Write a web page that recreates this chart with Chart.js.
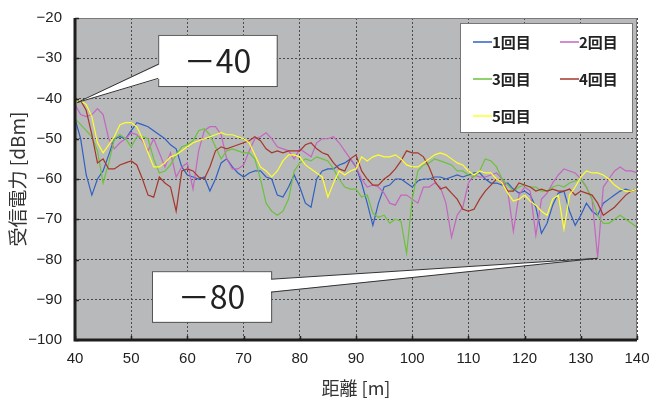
<!DOCTYPE html>
<html lang="ja">
<head>
<meta charset="UTF-8" />
<title>受信電力</title>
<script src="https://cdn.jsdelivr.net/npm/chart.js"></script>
<style>
  html, body { margin: 0; padding: 0; background: #fff; }
</style>
</head>
<body>
<canvas id="rssiChart" width="652" height="401"></canvas>
<script>
// distance [m]
const distance = [
  40, 41, 42, 43, 44, 45, 46, 47, 48, 49, 50, 51, 52, 53, 54, 55, 56, 57, 58, 59,
  60, 61, 62, 63, 64, 65, 66, 67, 68, 69, 70, 71, 72, 73, 74, 75, 76, 77, 78, 79,
  80, 81, 82, 83, 84, 85, 86, 87, 88, 89, 90, 91, 92, 93, 94, 95, 96, 97, 98, 99,
  100, 101, 102, 103, 104, 105, 106, 107, 108, 109, 110, 111, 112, 113, 114, 115, 116, 117, 118, 119,
  120, 121, 122, 123, 124, 125, 126, 127, 128, 129, 130, 131, 132, 133, 134, 135, 136, 137, 138, 139, 140
];

// received power [dBm], one list per run
const run1 = [
  -45, -50, -59, -64, -60, -58, -54, -50, -49.5, -50, -48, -46, -46.5, -47, -48, -49, -50, -51.5, -52.5, -57,
  -59, -59.5, -60, -59.5, -63, -60, -56, -55, -57, -58.5, -59.5, -58.5, -58, -58, -59.5, -60, -64, -64.5, -62, -59,
  -62, -66, -67, -60, -58, -57.5, -57.5, -56.5, -56, -55, -57, -61, -66, -71.5, -66, -62, -61.5, -60, -60, -61,
  -62, -60.5, -60, -60, -59.5, -59.5, -60, -59.5, -59, -59.5, -59, -58.5, -58.5, -60, -61, -61, -61.5, -61, -62.5, -63.5,
  -63, -64, -67, -73.5, -71, -66.5, -63.5, -63, -68, -71.5, -69, -66, -68, -69, -66, -65, -64, -63, -62.5, -63, -62.5
];
const run2 = [
  -41.5, -44, -44.5, -44, -42.5, -44, -50, -52.5, -51, -50, -48.5, -49, -50.5, -53, -50, -53.5, -57, -53.5, -59.5, -57,
  -56, -62.5, -53, -48, -47, -47, -49, -55, -57.5, -57.5, -56.5, -53, -50, -49.5, -48.5, -50, -52, -52.5, -53, -55,
  -52.5, -53.5, -54.5, -51, -50, -50, -49.5, -51, -53, -55, -57, -60, -62, -61.5, -62, -63.5, -66, -66.5, -64, -64,
  -65, -66, -62, -62, -61, -62, -66, -74.5, -69, -67, -61, -59, -59.5, -59.5, -59, -58.5, -60, -63, -73, -64,
  -62, -63, -74, -65, -63.5, -61, -59, -57.5, -58, -58.5, -60, -62, -65, -79.5, -62, -60, -58, -57, -58, -58, -58.5
];
const run3 = [
  -45, -46.5, -48, -49.5, -53, -61, -56, -50, -49, -50, -52, -49.5, -49.5, -50, -55, -58.5, -58, -56.5, -54, -52,
  -51.5, -50.5, -48, -47.5, -49, -52, -55, -53, -52.5, -53, -53.5, -53.5, -55, -60, -66, -68, -69, -68, -65, -58,
  -56, -55, -55.5, -54.5, -55, -55.5, -57.5, -60, -62, -62.5, -62.5, -64.5, -64, -68.5, -69.5, -69, -71, -70, -70.5, -78.5,
  -65, -58, -56.5, -56, -55, -55.5, -56, -56.5, -58, -58, -59, -59.5, -58, -55, -55.5, -57, -60, -61.5, -63, -62,
  -61.5, -62, -62, -63, -63, -62, -61.5, -62, -61, -60.5, -60, -62, -65, -69, -71, -71, -70, -69, -70, -71, -72
];
const run4 = [
  -41, -40.5, -43, -49, -56, -55, -57.5, -57.5, -56.5, -56, -55.5, -56.5, -60, -64, -64.5, -59.5, -61, -62, -68, -58,
  -57.5, -58, -59.5, -60, -57, -53, -52, -52.5, -52, -51.5, -51, -50.5, -49.5, -50.5, -52.5, -53.5, -53, -53.5, -53, -53,
  -53, -51.5, -51, -52.5, -53.5, -54, -56, -57.5, -58, -55, -54, -58, -60, -61.5, -61.5, -60, -59, -57.5, -55.5, -53,
  -53.5, -53.5, -54.5, -57, -60.5, -62.5, -62, -63.5, -65, -67.5, -68, -67.5, -65, -63, -61.5, -60, -61, -63, -63, -61,
  -61.5, -62, -63, -62.5, -63, -62.5, -63, -63, -62.5, -64, -63, -63.5, -64, -66, -69, -68, -67, -65.5, -64, -63, -62.5
];
const run5 = [
  -41, -40.5, -41.5, -44.5, -51, -53.5, -51.5, -49.5, -46.5, -46, -46, -47, -50, -53.5, -57, -57, -56, -54.5, -54, -53,
  -52, -51, -50.5, -50, -49.5, -49, -48.5, -49, -49, -49.5, -50, -51, -54, -57, -58, -59.5, -58, -55.5, -54, -54,
  -54.5, -56.5, -57.5, -58.5, -59.5, -64.5, -61, -58, -59, -58, -57.5, -54.5, -55.5, -54.5, -54, -54.5, -54.5, -54, -55, -56.5,
  -57, -57, -56, -55, -54, -53.5, -54, -55, -56, -56.5, -58, -59, -58, -58.5, -58.5, -60, -61, -63.5, -65.5, -65,
  -64, -65.5, -66.5, -68, -69, -65, -64, -72.5, -64, -62, -59.5, -58, -58.5, -58.5, -59, -60, -61.5, -62.5, -63, -63, -62.5
];

const runLabels = ['1回目', '2回目', '3回目', '4回目', '5回目'];
const runColors = ['#2f5fc4', '#c466c0', '#6cc23c', '#a5372b', '#ffff2a'];
const runs = [run1, run2, run3, run4, run5];

// callouts: [label, tip x, tip y]
const callouts = [
  ['－40', 40.4, -41],
  ['－80', 133, -79.7]
];

const tickFont = { family: '"Liberation Sans", Arial, sans-serif', size: 15 };
const jpFont = '"Noto Sans CJK JP", sans-serif';
const minus = v => String(v).replace('-', '\u2212');

const plotDecor = {
  id: 'plotDecor',
  beforeDraw(chart) {
    const { ctx, chartArea: a } = chart;
    ctx.save();
    ctx.fillStyle = '#b8b9bb';
    ctx.fillRect(a.left, a.top, a.right - a.left, a.bottom - a.top);
    ctx.restore();
  },
  afterDraw(chart) {
    const { ctx, chartArea: a, scales: { x, y } } = chart;
    ctx.save();

    // frame
    ctx.strokeStyle = '#7a7a7a';
    ctx.lineWidth = 1;
    ctx.strokeRect(a.left + 0.5, a.top + 0.5, a.right - a.left - 1, a.bottom - a.top - 1);

    // inner tick marks
    ctx.strokeStyle = '#222';
    ctx.lineWidth = 1.5;
    ctx.beginPath();
    y.ticks.forEach(t => {
      const py = Math.round(y.getPixelForValue(t.value)) + 0.5;
      ctx.moveTo(a.left, py); ctx.lineTo(a.left + 4, py);
    });
    x.ticks.forEach(t => {
      const px = Math.round(x.getPixelForValue(t.value)) + 0.5;
      ctx.moveTo(px, a.bottom); ctx.lineTo(px, a.bottom - 4);
    });
    ctx.stroke();

    // heavy left and bottom axes
    ctx.strokeStyle = '#1e1e1e';
    ctx.lineWidth = 3;
    ctx.beginPath();
    ctx.moveTo(a.left, a.top);
    ctx.lineTo(a.left, a.bottom);
    ctx.lineTo(a.right, a.bottom);
    ctx.stroke();

    // legend box
    const lx = a.right - 177, ly = a.top + 5, lw = 172, lh = 109;
    ctx.fillStyle = '#fff';
    ctx.fillRect(lx, ly, lw, lh);
    ctx.strokeStyle = '#777';
    ctx.lineWidth = 1;
    ctx.strokeRect(lx + 0.5, ly + 0.5, lw, lh);
    ctx.font = 'bold 15px ' + jpFont;
    ctx.textBaseline = 'middle';
    ctx.textAlign = 'left';
    runLabels.forEach((lab, i) => {
      const col = i % 2, row = Math.floor(i / 2);
      const sx = lx + 13 + col * 87;
      const sy = ly + 19 + row * 37;
      ctx.strokeStyle = runColors[i];
      ctx.lineWidth = 1.5;
      ctx.beginPath();
      ctx.moveTo(sx, sy); ctx.lineTo(sx + 19, sy);
      ctx.stroke();
      ctx.fillStyle = '#222';
      ctx.fillText(lab, sx + 19, sy);
    });

    // callout boxes
    const boxes = [
      { x0: 54.8, x1: 75.9, y0: -24.2, y1: -36.9, side: 'left', b0: -31.5, b1: -35 },
      { x0: 53.7, x1: 74.9, y0: -82.9, y1: -95.5, side: 'right', b0: -84.9, b1: -88.1 }
    ];
    callouts.forEach(([label, tx, ty], i) => {
      const b = boxes[i];
      const left = x.getPixelForValue(b.x0), right = x.getPixelForValue(b.x1);
      const top = y.getPixelForValue(b.y0), bottom = y.getPixelForValue(b.y1);
      const px = x.getPixelForValue(tx), py = y.getPixelForValue(ty);
      const ex = b.side === 'left' ? left : right;
      const e0 = y.getPixelForValue(b.b0), e1 = y.getPixelForValue(b.b1);

      ctx.fillStyle = '#fff';
      ctx.strokeStyle = '#555';
      ctx.lineWidth = 1;
      ctx.fillRect(left, top, right - left, bottom - top);
      ctx.strokeRect(left + 0.5, top + 0.5, right - left, bottom - top);

      const inward = b.side === 'left' ? 2 : -2;
      ctx.beginPath();
      ctx.moveTo(px, py);
      ctx.lineTo(ex + inward, e0);
      ctx.lineTo(ex + inward, e1);
      ctx.closePath();
      ctx.fill();
      ctx.strokeStyle = '#333';
      ctx.beginPath();
      ctx.moveTo(ex, e0); ctx.lineTo(px, py); ctx.lineTo(ex, e1);
      ctx.stroke();

      ctx.fillStyle = '#222';
      ctx.font = '32px ' + jpFont;
      ctx.textAlign = 'center';
      ctx.textBaseline = 'middle';
      ctx.fillText(label, (left + right) / 2, (top + bottom) / 2);
    });

    ctx.restore();
  }
};

new Chart(document.getElementById('rssiChart'), {
  type: 'line',
  data: {
    datasets: runs.map((r, i) => ({
      label: runLabels[i],
      data: distance.map((d, k) => ({ x: d, y: r[k] })),
      borderColor: runColors[i],
      borderWidth: 1.2,
      pointRadius: 0,
      tension: 0,
      fill: false,
      order: 5 - i
    }))
  },
  options: {
    responsive: false,
    animation: false,
    layout: { padding: { top: 18, right: 15, left: 0, bottom: 0 } },
    plugins: { legend: { display: false }, tooltip: { enabled: false } },
    scales: {
      x: {
        type: 'linear',
        min: 40, max: 140,
        afterFit: s => { s.height = 61; s.paddingLeft = 0; s.paddingRight = 0; },
        ticks: { stepSize: 10, padding: 10, color: '#222', font: tickFont },
        grid: { color: '#4a4a4a', lineWidth: 1, drawTicks: false },
        border: { display: false, dash: [2, 2] },
        title: {
          display: true, text: '距離 [m]', color: '#333',
          font: { family: jpFont, size: 18 }, padding: { top: 0, bottom: 2 }
        }
      },
      y: {
        min: -100, max: -20,
        afterFit: s => { s.width = 75; s.paddingTop = 0; s.paddingBottom = 0; },
        ticks: { stepSize: 10, padding: 13, color: '#222', font: tickFont, callback: v => minus(v) },
        grid: { color: '#4a4a4a', lineWidth: 1, drawTicks: false },
        border: { display: false, dash: [2, 2] },
        title: {
          display: true, text: '受信電力 [dBm]', color: '#333',
          font: { family: jpFont, size: 19 }, padding: { top: 6, bottom: 0 }
        }
      }
    }
  },
  plugins: [plotDecor]
});
</script>
</body>
</html>
